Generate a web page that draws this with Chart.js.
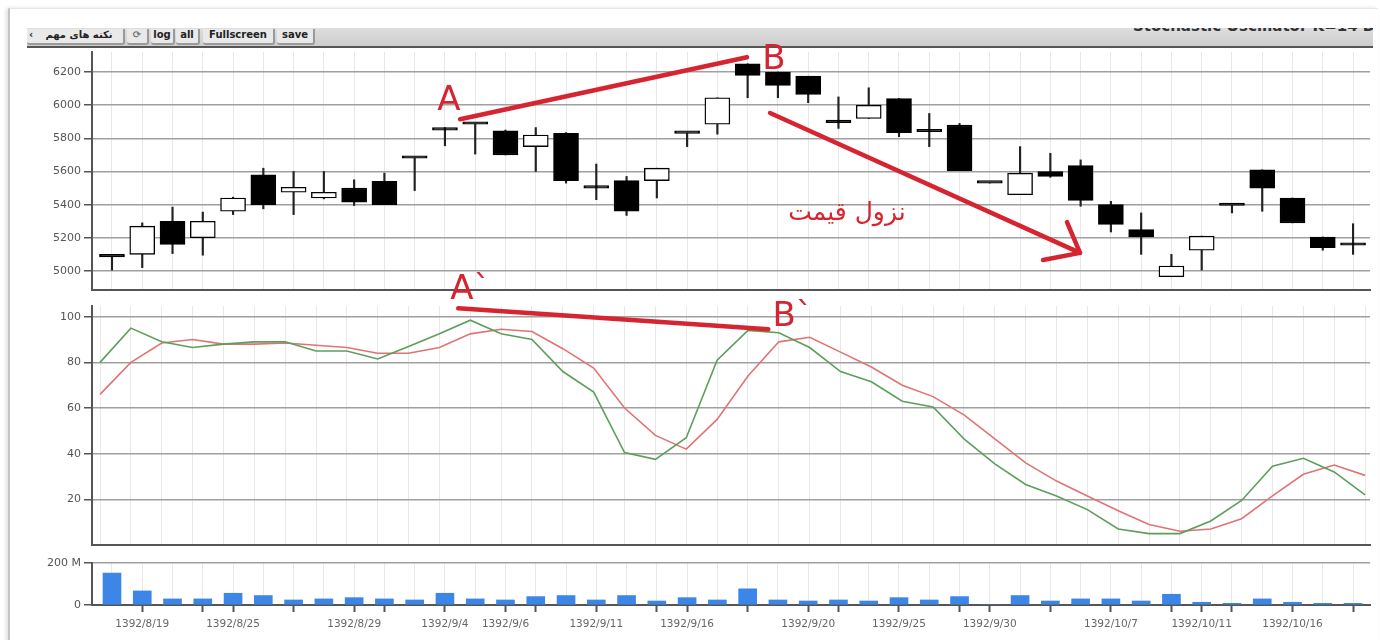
<!DOCTYPE html>
<html>
<head>
<meta charset="utf-8">
<title>Stochastic Oscillator K=14 D=3</title>
<script src="https://cdn.jsdelivr.net/npm/chart.js@4.4.1/dist/chart.umd.min.js"></script>
<style>
  body { margin: 0; width: 1380px; height: 640px; overflow: hidden; position: relative; background: #fff; font-family: "DejaVu Sans", sans-serif; }
  #frame { position: absolute; left: 8px; top: 8px; width: 1368px; height: 640px; border-left: 2px solid #c4c4c4; border-top: 1px solid #e6e6e6; box-shadow: -2px 0 4px #e0e0e0; }
  #bar { position: absolute; left: 27px; top: 28px; width: 1346px; height: 18px; background: linear-gradient(#dedede, #cdcdcd); border-bottom: 2px solid #555; overflow: hidden; }
  #bar .btn { position: absolute; top: 1px; height: 14px; line-height: 14px; text-align: center; font: bold 10px "DejaVu Sans"; color: #222; background: #e9e9e9; border-right: 2px solid #9a9a9a; border-bottom: 2px solid #9a9a9a; border-radius: 0 0 3px 3px; white-space: nowrap; }
  #bar .arrow { position: absolute; left: 2px; top: 0; }
  #title { position: absolute; left: 1106px; top: -11px; font: bold 15px "DejaVu Sans"; color: #333; white-space: nowrap; }
  canvas { position: absolute; left: 0; }
</style>
</head>
<body>
<div id="frame"></div>
<div id="bar">
  <span class="btn" style="left:0;width:96px"><span class="arrow">‹</span><span dir="rtl" style="padding-left:8px">نکته های مهم</span></span>
  <span class="btn" style="left:100px;width:20px;color:#777">⟳</span>
  <span class="btn" style="left:124px;width:22px">log</span>
  <span class="btn" style="left:149px;width:22px">all</span>
  <span class="btn" style="left:176px;width:70px">Fullscreen</span>
  <span class="btn" style="left:250px;width:36px">save</span>
  <span id="title">Stochastic Oscillator K=14 D=3</span>
</div>
<canvas id="priceChart" width="1380" height="300" style="top:0"></canvas>
<canvas id="stochChart" width="1380" height="285" style="top:270px"></canvas>
<canvas id="volumeChart" width="1380" height="92" style="top:548px"></canvas>
<script>
// daily candles
const opens  = [5085, 5100, 5300, 5200, 5360, 5580, 5475, 5440, 5500, 5540, 5680, 5865, 5885, 5845, 5750, 5830, 5500, 5545, 5545, 5830, 5885, 6250, 6200, 6175, 5895, 5920, 6040, 5840, 5880, 5530, 5460, 5600, 5635, 5400, 5250, 4965, 5125, 5395, 5610, 5440, 5205, 5155];
const closes = [5085, 5270, 5160, 5300, 5440, 5400, 5505, 5475, 5415, 5400, 5680, 5850, 5885, 5700, 5820, 5545, 5500, 5360, 5620, 5830, 6045, 6180, 6120, 6065, 5895, 6000, 5835, 5840, 5605, 5530, 5590, 5570, 5425, 5280, 5205, 5030, 5210, 5395, 5500, 5290, 5140, 5155];
const highs  = [5085, 5290, 5385, 5355, 5445, 5620, 5600, 5600, 5550, 5590, 5680, 5865, 5885, 5850, 5865, 5835, 5645, 5570, 5620, 5830, 6045, 6250, 6200, 6175, 6050, 6105, 6040, 5950, 5890, 5530, 5750, 5710, 5670, 5420, 5350, 5100, 5210, 5395, 5610, 5440, 5205, 5285];
const lows   = [5005, 5020, 5105, 5095, 5340, 5375, 5340, 5435, 5395, 5400, 5485, 5755, 5705, 5700, 5600, 5530, 5430, 5335, 5440, 5750, 5825, 6045, 6045, 6015, 5860, 5920, 5810, 5750, 5605, 5530, 5460, 5565, 5390, 5235, 5100, 4965, 5005, 5350, 5360, 5290, 5125, 5100];

// stochastic %K (green) and %D (red)
const stochK = [80, 95, 89, 86.5, 88, 89, 89, 85, 85, 81.5, 87, 92.5, 98.5, 92.5, 90, 76, 67, 40.5, 37.5, 47, 81, 94, 93, 86.5, 76, 71.5, 63, 60.5, 46.5, 35.5, 26.5, 21.5, 15.5, 7, 5, 5, 10.5, 19.5, 34.5, 38, 32, 22];
const stochD = [66, 80, 88.5, 90, 88, 88, 88.5, 87.5, 86.5, 84, 84, 86.5, 92.5, 94.5, 93.5, 86, 77.5, 60, 48, 42, 55, 74, 89, 91, 84.5, 78, 70, 65, 57, 46.5, 36, 28, 21.5, 15, 9, 6, 7, 11.5, 21.5, 31, 35, 30.5];

// volume in millions
const volumes = [152, 67, 29, 29, 56, 45, 24, 29, 35, 29, 24, 56, 29, 24, 40, 45, 24, 45, 19, 35, 24, 77, 24, 19, 24, 19, 35, 24, 40, 0, 45, 19, 29, 29, 19, 51, 13, 8, 29, 13, 8, 8];

// date labels shown under the volume panel, and where tick marks sit
const dates = ["", "1392/8/19", "", "", "1392/8/25", "", "", "", "1392/8/29", "", "", "1392/9/4", "", "1392/9/6", "", "", "1392/9/11", "", "", "1392/9/16", "", "", "", "1392/9/20", "", "", "1392/9/25", "", "", "1392/9/30", "", "", "", "1392/10/7", "", "", "1392/10/11", "", "", "1392/10/16", "", ""];
const tickDays = [1, 3, 4, 6, 8, 9, 11, 13, 14, 16, 18, 19, 21, 23, 24, 26, 28, 29, 31, 33, 35, 36, 37, 39, 41];

const priceTicks = [5000, 5200, 5400, 5600, 5800, 6000, 6200];
const stochTicks = [20, 40, 60, 80, 100];
const volumeTicks = [0, 200];

// hand drawn notes, in data units (day index, value)
const priceNotes = {
  lines: [
    [[11.5, 5915], [20.98, 6289]],
    [[21.74, 5953], [31.98, 5109]],
    [[30.76, 5066], [31.98, 5109], [31.55, 5295]]
  ],
  texts: [["A", 11.13, 6025, 34], ["B", 21.87, 6272, 34], ["نزول قیمت", 24.28, 5344, 25]]
};
const stochNotes = {
  lines: [[[11.61, 103.7], [21.66, 94.5]]],
  texts: [["A`", 12.0, 111.5, 34], ["B`", 22.45, 99.8, 34]]
};

const RED = "#d62430";
const AXIS = "#555";
const days = opens.map((_, i) => i);
const tickFont = { family: "DejaVu Sans", size: 11 };

function notesPlugin(notes) {
  return {
    id: "notes",
    afterDatasetsDraw(chart) {
      const { ctx, scales: { x, y } } = chart;
      ctx.save();
      ctx.strokeStyle = RED;
      ctx.fillStyle = RED;
      ctx.lineWidth = 4.5;
      ctx.lineCap = "round";
      ctx.lineJoin = "round";
      notes.lines.forEach(pts => {
        ctx.beginPath();
        pts.forEach(([d, v], k) => {
          const px = x.getPixelForValue(d), py = y.getPixelForValue(v);
          if (k) ctx.lineTo(px, py); else ctx.moveTo(px, py);
        });
        ctx.stroke();
      });
      ctx.textAlign = "center";
      ctx.textBaseline = "middle";
      notes.texts.forEach(([t, d, v, size]) => {
        ctx.font = size + 'px "DejaVu Sans"';
        ctx.fillText(t, x.getPixelForValue(d), y.getPixelForValue(v));
      });
      ctx.restore();
    }
  };
}

function xScale(min, max, extra) {
  return Object.assign({
    type: "linear",
    min: min,
    max: max,
    offset: false,
    afterBuildTicks: s => { s.ticks = days.map(v => ({ value: v })); },
    ticks: { display: false },
    grid: { color: "#e8e8e8", lineWidth: 1, drawTicks: false, offset: false },
    border: { color: AXIS, width: 2 },
    afterFit: s => { s.height = 0; }
  }, extra || {});
}

function yScale(min, max, values, extra) {
  return Object.assign({
    min: min,
    max: max,
    afterBuildTicks: s => { s.ticks = values.map(v => ({ value: v })); },
    ticks: { color: "#555", font: tickFont, padding: 3, callback: v => String(v) },
    grid: { color: "#a0a0a0", lineWidth: 1.5, tickLength: 8, tickColor: AXIS, tickWidth: 1.5 },
    border: { color: AXIS, width: 2 },
    afterFit: s => { s.width = 92; }
  }, extra || {});
}

const common = {
  responsive: false,
  animation: false,
  events: [],
  plugins: { legend: { display: false }, tooltip: { enabled: false } }
};

// price panel: candles as floating bars (body + wick)
new Chart(document.getElementById("priceChart"), {
  type: "bar",
  data: {
    datasets: [{
      label: "body",
      data: days.map(i => ({ x: i, y: [opens[i], closes[i]] })),
      backgroundColor: days.map(i => closes[i] > opens[i] ? "#fff" : "#000"),
      borderColor: "#000",
      borderWidth: 1.4,
      borderSkipped: false,
      barThickness: 25,
      minBarLength: 2.5,
      grouped: false,
      order: 0
    }, {
      label: "wick",
      data: days.map(i => ({ x: i, y: [lows[i], highs[i]] })),
      backgroundColor: "#222",
      barThickness: 1.5,
      grouped: false,
      order: 1
    }]
  },
  options: Object.assign({}, common, {
    layout: { padding: { top: 52, right: 10, bottom: 10, left: 0 } },
    scales: {
      x: xScale(-0.66, 41.56),
      y: yScale(4885, 6321, priceTicks)
    }
  }),
  plugins: [notesPlugin(priceNotes)]
});

// stochastic panel
new Chart(document.getElementById("stochChart"), {
  type: "line",
  data: {
    datasets: [{
      label: "%K",
      data: days.map(i => ({ x: i, y: stochK[i] })),
      borderColor: "#5d9e5d",
      borderWidth: 1.6,
      pointRadius: 0,
      tension: 0
    }, {
      label: "%D",
      data: days.map(i => ({ x: i, y: stochD[i] })),
      borderColor: "#e07474",
      borderWidth: 1.6,
      pointRadius: 0,
      tension: 0
    }]
  },
  options: Object.assign({}, common, {
    layout: { padding: { top: 36, right: 10, bottom: 10, left: 0 } },
    scales: {
      x: xScale(-0.26, 41.16),
      y: yScale(0, 104.7, stochTicks)
    }
  }),
  plugins: [notesPlugin(stochNotes)]
});

// volume panel
new Chart(document.getElementById("volumeChart"), {
  type: "bar",
  data: {
    datasets: [{
      label: "Volume",
      data: days.map(i => ({ x: i, y: volumes[i] })),
      backgroundColor: "#3b86e6",
      barThickness: 18
    }]
  },
  options: Object.assign({}, common, {
    layout: { padding: { top: 15, right: 10, bottom: 0, left: 0 } },
    scales: {
      x: xScale(-0.66, 41.56, {
        ticks: {
          display: true, autoSkip: false, maxRotation: 0, minRotation: 0,
          color: "#666", font: { family: "DejaVu Sans", size: 10.5 }, padding: 6,
          callback: (v, i) => dates[i]
        },
        grid: {
          color: "#e8e8e8", lineWidth: 1, offset: false, drawTicks: true, tickLength: 7, tickWidth: 2,
          tickColor: c => tickDays.includes(c.index) ? AXIS : "rgba(0,0,0,0)"
        },
        afterFit: s => { s.height = 35; }
      }),
      y: yScale(0, 200, volumeTicks, {
        ticks: { color: "#555", font: tickFont, padding: 3, callback: v => v ? v + " M" : "0" }
      })
    }
  })
});
</script>
</body>
</html>
